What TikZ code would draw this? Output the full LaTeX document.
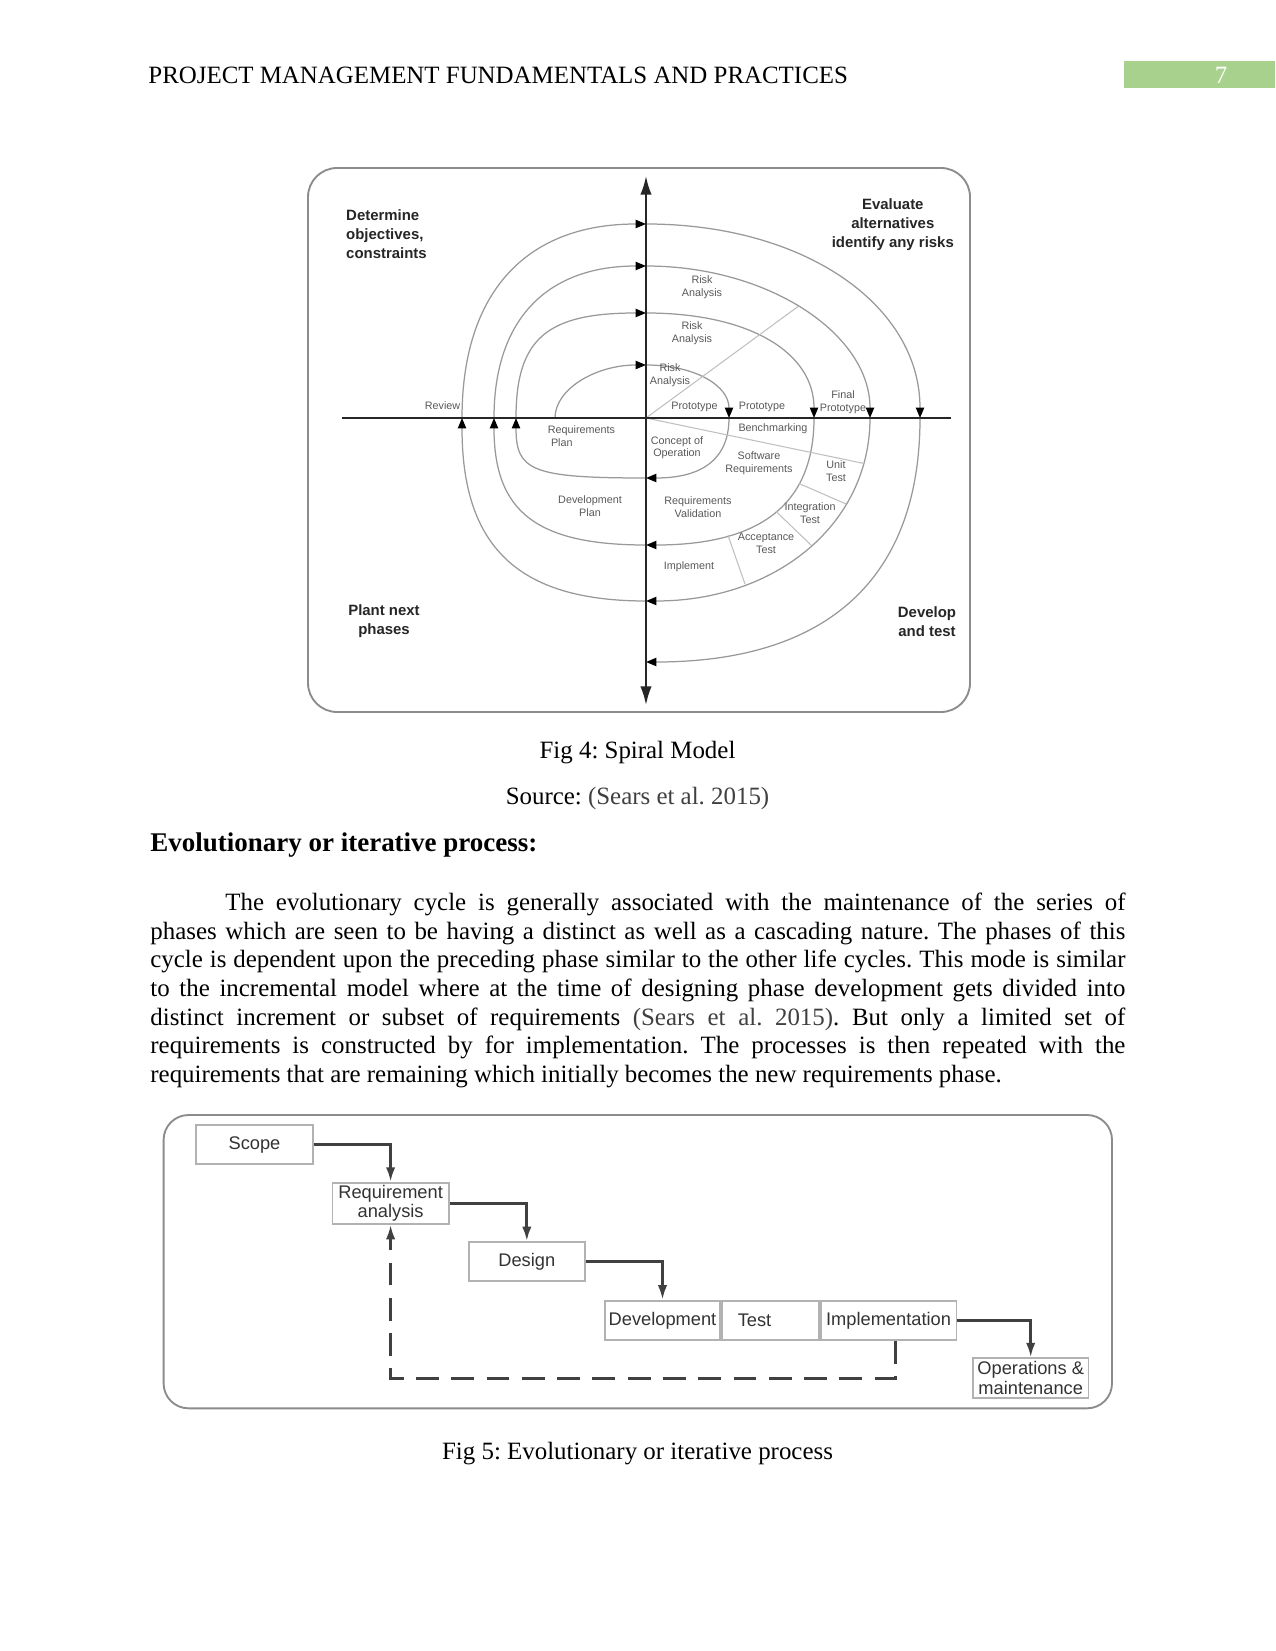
\documentclass[tikz,border=0pt]{standalone}
\usepackage{fontspec}
\setmainfont{Liberation Serif}
\setsansfont{Liberation Sans}
\usetikzlibrary{arrows.meta,positioning}
\definecolor{hdrgreen}{HTML}{A9D18E}
\definecolor{cite}{HTML}{404040}
\frenchspacing

\begin{document}
\begin{tikzpicture}[x=0.4818pt,y=0.4818pt]
  \tikzstyle{txt}=[inner sep=0pt,font=\fontsize{12}{13.8}\selectfont]
  \tikzstyle{frame}=[draw=black!45,line width=0.9pt]
  \tikzstyle{spiral}=[draw=black!40,line width=0.6pt,-{Triangle[length=5pt,width=4pt,color=black]}]
  \tikzstyle{divider}=[draw=black!25,line width=0.5pt]
  \tikzstyle{axis}=[draw=black!85,line width=1pt]
  \tikzstyle{quad}=[inner sep=0pt,font=\sffamily\bfseries\fontsize{7.2}{9.1}\selectfont,text=black!85,align=center]
  \tikzstyle{lab}=[inner sep=0pt,font=\sffamily\fontsize{5.2}{6.2}\selectfont,text=black!65,align=center]
  \tikzstyle{stage}=[draw=black!30,line width=0.9pt,fill=white,inner sep=1pt,minimum height=18.9pt,
    font=\sffamily\fontsize{8.8}{9.6}\selectfont,text=black!80,align=center]
  \tikzstyle{flow}=[draw=black!75,line width=1.3pt,-{Latex[length=7pt,width=4.5pt]}]
  \tikzstyle{feedback}=[flow,dash pattern=on 11pt off 6pt]

  \useasboundingbox (0,0) rectangle (1275,-1651);
  \fill[white] (0,0) rectangle (1275,-1651);

  % header
  \node[txt,anchor=base west] (hdr) at (148,-83.3) {PROJECT MANAGEMENT FUNDAMENTALS AND PRACTICES};
  \fill[hdrgreen] (1124,-61) rectangle (1275,-88.5);
  \node[txt,anchor=base,text=white] (pgnum) at (1221,-83.3) {7};

  % spiral model
  \draw[frame,rounded corners=14pt] (308,-168) rectangle (970,-712);
  \coordinate (C) at (646,-418);
  \foreach \xl/\yt/\xr/\yb/\xn/\ka/\kb/\kc/\kd in {555/365/729/478/516/0.55/0.6/0.68/0.88,
      516/313/814/545/494/0.76/0.62/0.68/0.73,494/266/870/601/462/0.65/0.55/0.58/0.7}{
    \draw[spiral] (\xl,-418) .. controls (\xl,{-418+\ka*(418-\yt)}) and ({646-\ka*(646-\xl)},-\yt) .. (646,-\yt);
    \draw[spiral] (646,-\yt) .. controls ({646+\kb*(\xr-646)},-\yt) and (\xr,{-418+\kb*(418-\yt)}) .. (\xr,-418);
    \draw[spiral] (\xr,-418) .. controls (\xr,{-418-\kc*(\yb-418)}) and ({646+\kc*(\xr-646)},-\yb) .. (646,-\yb);
    \draw[spiral] (646,-\yb) .. controls ({646-\kd*(646-\xn)},-\yb) and (\xn,{-418-\kd*(\yb-418)}) .. (\xn,-418);
  }
  \draw[spiral] (462,-418) .. controls (462,{-418+0.65*194}) and ({646-0.65*184},-224) .. (646,-224);
  \draw[spiral] (646,-224) .. controls ({646+0.58*274},-224) and (920,{-418+0.58*194}) .. (920,-418);
  \draw[spiral] (920,-418) .. controls (920,{-418-0.66*244}) and ({646+0.66*274},-662) .. (646,-662);

  \draw[divider] (C) -- (798,-306.5);
  \draw[divider] (C) -- (864,-463.5);
  \draw[divider] (799,-483.5) -- (846,-504);
  \draw[divider] (776,-511.4) -- (811,-545);
  \draw[divider] (728,-535.3) -- (745,-584);

  \coordinate (vtop) at (646,-176);
  \coordinate (vbot) at (646,-705);
  \coordinate (hleft) at (342,-418);
  \coordinate (hright) at (951,-418);
  \draw[axis,{Latex[length=9pt,width=5.5pt]}-{Latex[length=9pt,width=5.5pt]}] (vbot) -- (vtop);
  \draw[axis] (hleft) -- (hright);

  \node[quad,align=left] (determine) at (386.5,-234.2) {Determine\\objectives,\\constraints};
  \node[quad] (evaluate) at (892.8,-224.7) {Evaluate\\alternatives\\identify any risks};
  \node[quad] (plan) at (384,-621.5) {Plant next\\phases};
  \node[quad] (develop) at (927,-621.5) {Develop\\and test};

  \node[lab] (risk1) at (702,-287.5) {Risk\\Analysis};
  \node[lab] (risk2) at (692,-333.5) {Risk\\Analysis};
  \node[lab] (risk3) at (670,-375.5) {Risk\\Analysis};
  \node[lab] (proto1) at (694.5,-406.7) {Prototype};
  \node[lab] (proto2) at (762,-406.7) {Prototype};
  \node[lab] (final) at (843,-402.5) {Final\\Prototype};
  \node[lab] (review) at (442.5,-406) {Review};
  \node[lab,align=left] (reqplan) at (581.5,-436.5) {Requirements\\\hspace*{1.5pt}Plan};
  \node[lab] (concept) at (677,-447.7) {Concept of\\Operation};
  \node[lab] (bench) at (773,-429) {Benchmarking};
  \node[lab] (softreq) at (759,-463) {Software\\Requirements};
  \node[lab] (unit) at (836,-471) {Unit\\Test};
  \node[lab] (integ) at (810,-513.3) {Integration\\Test};
  \node[lab] (accept) at (766,-543) {Acceptance\\Test};
  \node[lab] (devplan) at (590,-506) {Development\\Plan};
  \node[lab] (reqval) at (698,-507) {Requirements\\Validation};
  \node[lab] (implement) at (689,-567) {Implement};

  % captions and body text
  \node[txt,anchor=base] (cap4) at (637.5,-758) {Fig 4: Spiral Model};
  \node[txt,anchor=base] (src4) at (637.5,-804) {Source: \textcolor{cite}{(Sears et al. 2015)}};
  \node[txt,anchor=base west,font=\bfseries\fontsize{13}{15}\selectfont] (head) at (150,-851) {Evolutionary or iterative process:};
  \node[txt,anchor=base west,text width=6.5in,align=justify] (para) at (150,-910.5)
    {\hspace*{0.5in}The evolutionary cycle is generally associated with the maintenance of the series of\linebreak
    phases which are seen to be having a distinct as well as a cascading nature. The phases of this\linebreak
    cycle is dependent upon the preceding phase similar to the other life cycles. This mode is similar\linebreak
    to the incremental model where at the time of designing phase development gets divided into\linebreak
    distinct increment or subset of requirements \textcolor{cite}{(Sears et al. 2015)}. But only a limited set of\linebreak
    requirements is constructed by for implementation. The processes is then repeated with the\linebreak
    requirements that are remaining which initially becomes the new requirements phase.};

  % iterative process
  \draw[frame,rounded corners=12pt] (163.6,-1115) rectangle (1112,-1408.3);
  \node[stage,minimum width=56pt] (scope) at (254.5,-1144.6) {Scope};
  \node[stage,minimum width=56pt] (req) at (390.6,-1203.3) {Requirement\\analysis};
  \node[stage,minimum width=56pt] (design) at (526.8,-1261.7) {Design};
  \node[stage,minimum width=55.7pt] (dev) at (662.5,-1320.3) {Development};
  \node[stage,inner xsep=7.5pt,text width=31.5pt,align=left,right=0pt of dev] (test) {Test};
  \node[stage,minimum width=65.5pt,right=0pt of test] (impl) {Implementation};
  \node[stage,minimum width=55.7pt,minimum height=19.3pt] (ops) at (1030.7,-1378.3) {Operations \&\\maintenance};

  \draw[flow] (scope.east) -| (req.north);
  \draw[flow] (req.east) -| (design.north);
  \draw[flow] (design.east) -| (dev.north);
  \draw[flow] (impl.east) -| (ops.north);
  \coordinate (back) at (895.4,-1378.3);
  \draw[feedback] (back |- impl.south) -- (back) -| (req.south);

  \node[txt,anchor=base] (cap5) at (637.5,-1459) {Fig 5: Evolutionary or iterative process};
\end{tikzpicture}
\end{document}
